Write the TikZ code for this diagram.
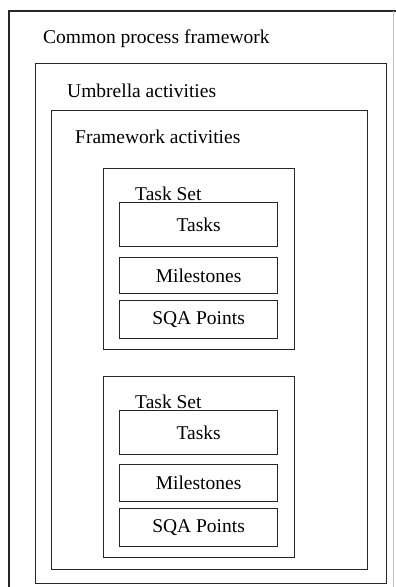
\documentclass[tikz,border=0pt]{standalone}
\usepackage{fontspec}
\setmainfont{Liberation Serif}
\begin{document}
\begin{tikzpicture}[x=1pt,y=-1pt,
  frame/.style={draw=black!85,line width=1.2pt},
  box/.style={draw=black!85,line width=1.2pt,anchor=north west,inner sep=0pt,
    font=\fontsize{19.5}{22}\selectfont},
  lbl/.style={anchor=base west,inner sep=0pt,font=\fontsize{19.5}{22}\selectfont}]
\useasboundingbox (0,0) rectangle (396,587);
\clip (0,0) rectangle (396,587);
\fill[white] (0,0) rectangle (396,587);
% outer frame (cut off at the bottom)
\coordinate (otl) at (9,11);
\coordinate (otr) at (396,11);
\coordinate (obl) at (9,590);
\draw[frame] (otr) -- (otl) -- (obl);
\draw[draw=black!25,line width=0.8pt] (393,11) -- (393,590);
\node[lbl] (cpf) at (43,43) {Common process framework};
% umbrella
\node[box,minimum width=351pt,minimum height=520pt] (umb) at (35,63) {};
\node[lbl] (umbl) at (67,97) {Umbrella activities};
% framework
\node[box,minimum width=316pt,minimum height=459pt] (fw) at (51,110) {};
\node[lbl] (fwl) at (75,143) {Framework activities};
% task set 1
\node[box,minimum width=191pt,minimum height=181pt] (ts1) at (103,168) {};
\node[lbl] (ts1l) at (135,200) {Task Set};
\node[box,minimum width=158pt,minimum height=44pt] (ta1) at (119,202) {Tasks};
\node[box,minimum width=158pt,minimum height=36pt] (mi1) at (119,257) {Milestones};
\node[box,minimum width=158pt,minimum height=38pt] (sq1) at (119,300) {SQA Points};
% task set 2
\node[box,minimum width=191pt,minimum height=181pt] (ts2) at (103,376) {};
\node[lbl] (ts2l) at (135,408) {Task Set};
\node[box,minimum width=158pt,minimum height=44pt] (ta2) at (119,410) {Tasks};
\node[box,minimum width=158pt,minimum height=37pt] (mi2) at (119,464) {Milestones};
\node[box,minimum width=158pt,minimum height=38pt] (sq2) at (119,508) {SQA Points};
\end{tikzpicture}
\end{document}
